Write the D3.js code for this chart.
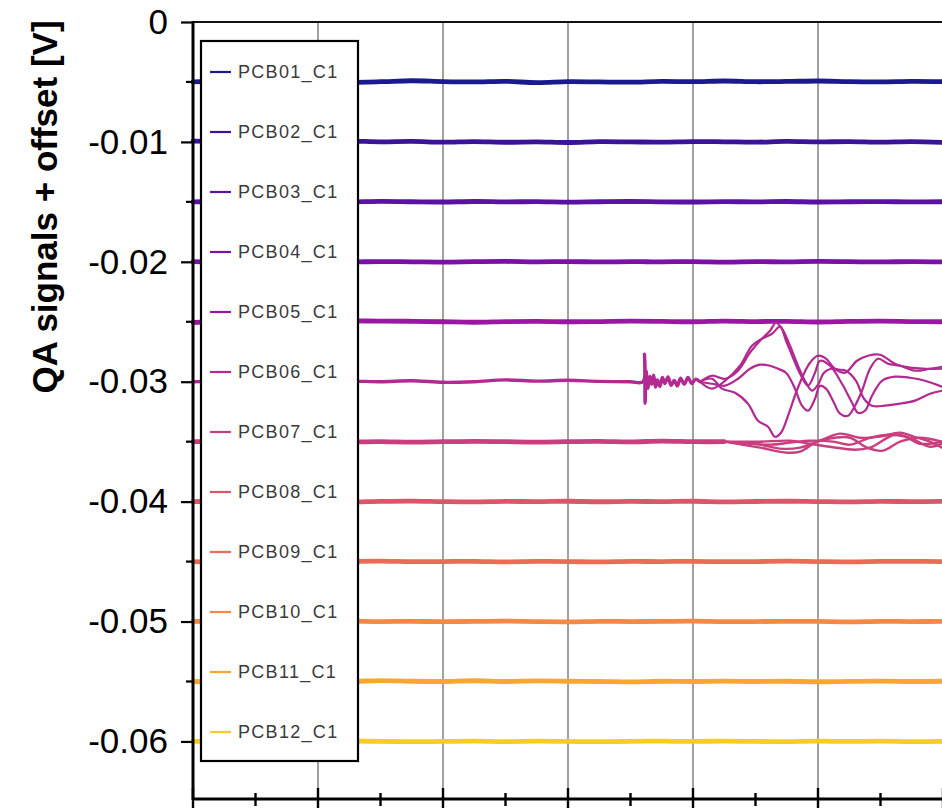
<!DOCTYPE html>
<html>
<head>
<meta charset="utf-8">
<script src="https://cdn.jsdelivr.net/npm/d3@7"></script>
<style>
  html, body { margin: 0; padding: 0; background: #fff; }
  svg { display: block; font-family: Arial, "Liberation Sans", sans-serif; }
</style>
</head>
<body>
<svg id="chart" width="942" height="808"></svg>
<script>
// Channel names, offsets added to each signal, and line colours
const channels = ["PCB01_C1","PCB02_C1","PCB03_C1","PCB04_C1","PCB05_C1","PCB06_C1",
                  "PCB07_C1","PCB08_C1","PCB09_C1","PCB10_C1","PCB11_C1","PCB12_C1"];
const offsets = [-0.005,-0.010,-0.015,-0.020,-0.025,-0.030,-0.035,-0.040,-0.045,-0.050,-0.055,-0.060];
const colors = ["#1b1a8c","#3b1399","#5b11a2","#7b0fa8","#9a17a3","#b22a91",
                "#c93f7e","#dc566a","#ea6c55","#f58845","#f9a630","#f7cd24"];

// Y tick values (volts) and x grid positions (time units)
const yMajorTicks = [0,-0.01,-0.02,-0.03,-0.04,-0.05,-0.06];
const yMinorTicks = [-0.005,-0.015,-0.025,-0.035,-0.045,-0.055];
const xMajorTicks = [0,1,2,3,4,5,6];
const xMinorTicks = [0.5,1.5,2.5,3.5,4.5,5.5];

// Sample times for the quiet channels
const sampleX = [0,0.25,0.5,0.75,1,1.25,1.5,1.75,2,2.25,2.5,2.75,3,3.25,3.5,3.75,4,4.25,4.5,4.75,5,5.25,5.5,5.75,6];

// Signals in mV (before offset), quiet channels
const sigPCB01 = [0.00,0.04,-0.02,0.03,0.00,-0.03,0.02,0.10,0.03,0.00,0.05,-0.06,0.02,0.00,-0.02,0.05,0.02,0.08,0.02,0.04,0.08,0.02,0.00,0.04,0.02];
const sigPCB02 = [0.06,0.02,-0.04,0.05,0.03,0.07,0.01,0.04,-0.02,0.03,-0.03,0.00,-0.05,0.02,0.00,-0.02,0.03,0.01,-0.02,0.04,0.00,0.03,-0.02,0.02,-0.04];
const sigPCB03 = [0.00,0.03,0.01,-0.02,0.02,0.00,0.04,0.01,-0.01,0.03,0.00,0.02,-0.02,0.01,0.03,0.00,-0.01,0.02,0.00,0.03,-0.01,0.01,0.02,0.00,0.01];
const sigPCB04 = [0.01,-0.02,0.02,0.00,0.03,-0.01,0.02,0.00,-0.02,0.01,0.03,0.00,0.02,-0.01,0.01,0.00,0.02,-0.02,0.01,0.00,0.03,0.01,-0.01,0.02,0.00];
const sigPCB05 = [-0.06,0.03,0.00,0.06,0.04,0.08,0.05,0.04,0.00,-0.04,0.01,0.03,0.00,0.02,0.05,0.03,0.00,0.06,0.02,0.04,-0.02,0.03,0.05,0.02,0.00];
const sigPCB08 = [0.00,0.03,-0.02,0.02,0.00,-0.03,0.02,0.04,0.00,-0.02,0.02,0.00,0.03,-0.01,0.02,0.00,0.03,-0.02,0.01,0.03,0.00,-0.02,0.02,0.00,0.02];
const sigPCB09 = [0.00,-0.03,0.02,0.00,-0.02,0.01,0.03,-0.01,0.00,0.02,-0.02,0.01,0.00,-0.03,0.01,0.00,0.02,-0.01,0.00,0.03,0.00,-0.02,0.01,0.02,0.00];
const sigPCB10 = [0.02,0.00,0.03,-0.02,0.01,0.03,0.00,0.02,-0.01,0.01,0.03,0.00,-0.02,0.02,0.00,0.01,0.03,-0.01,0.00,0.02,0.01,-0.02,0.02,0.00,0.01];
const sigPCB11 = [0.00,-0.04,0.02,0.00,0.06,0.00,0.08,0.02,0.00,0.06,0.00,0.05,0.02,0.00,-0.03,0.02,0.00,0.03,0.00,0.02,-0.02,0.01,0.03,0.00,0.02];
const sigPCB12 = [0.00,0.01,-0.02,0.02,0.00,0.03,0.01,-0.02,0.00,0.02,-0.01,0.02,0.00,-0.02,0.01,0.02,0.00,0.03,0.00,-0.01,0.02,0.00,0.02,-0.01,0.01];

// PCB06: common part with the ringing burst, then four diverging traces [time, mV]
const pcb06X   = [0,0.25,0.5,0.75,1,1.25,1.5,1.75,2,2.25,2.5,2.75,3,3.25,3.5,3.6,
                  3.612,3.617,3.625,3.64,3.655,3.67,3.685,3.70,3.715,3.735,3.755,3.775,3.80,3.825,3.85,3.875,3.90,3.93,3.96,3.99,4.02,4.056];
const pcb06Sig = [0.00,0.05,-0.05,0.00,-0.08,0.05,0.00,0.08,-0.05,0.00,0.15,0.05,0.12,0.03,0.00,0.00,
                  2.30,-1.80,0.90,-0.55,0.45,-0.20,0.55,-0.45,0.15,-0.40,0.35,-0.15,0.40,-0.30,0.10,-0.35,0.30,-0.20,0.35,-0.15,0.20,0.00];
const pcb06Branch1 = [[4.056,0],[4.152,0.50],[4.256,0.25],[4.36,0.92],[4.456,2.42],[4.536,3.42],[4.616,4.25],[4.664,4.92],[4.712,4.42],[4.776,3.00],[4.84,1.33],[4.904,-0.08],[4.952,-0.75],[5.0,-0.25],[5.048,0.75],[5.112,1.08],[5.216,0.75],[5.312,1.75],[5.4,2.17],[5.496,2.25],[5.616,1.50],[5.736,1.17],[5.856,1.08],[5.992,1.08]];
const pcb06Branch2 = [[4.056,0],[4.152,-0.58],[4.256,0.08],[4.376,1.33],[4.472,3.00],[4.552,3.59],[4.632,4.00],[4.696,4.59],[4.744,3.42],[4.80,2.00],[4.856,0.67],[4.92,-0.33],[4.976,0.75],[5.016,1.75],[5.096,1.33],[5.192,-0.17],[5.272,-1.75],[5.32,-2.59],[5.376,-2.42],[5.432,-1.17],[5.512,0.08],[5.616,0.42],[5.736,0.33],[5.856,0.08],[5.992,-0.42]];
const pcb06Branch3 = [[4.056,0],[4.152,-0.17],[4.256,-0.33],[4.36,0.25],[4.456,1.08],[4.536,1.42],[4.616,1.33],[4.68,1.08],[4.744,0.75],[4.816,-0.58],[4.872,-2.00],[4.92,-2.42],[4.976,-1.42],[5.016,-0.33],[5.064,-0.58],[5.12,-1.58],[5.176,-2.67],[5.24,-2.84],[5.296,-2.00],[5.352,-0.75],[5.416,1.08],[5.48,1.92],[5.56,1.50],[5.656,1.33],[5.776,0.92],[5.896,1.08],[5.992,1.25]];
const pcb06Branch4 = [[4.056,0],[4.152,0.25],[4.232,-0.58],[4.336,-0.92],[4.44,-1.83],[4.52,-3.25],[4.60,-3.75],[4.656,-4.59],[4.704,-4.25],[4.76,-2.84],[4.824,-0.92],[4.88,0.50],[4.936,1.58],[5.0,2.17],[5.064,1.92],[5.136,1.08],[5.224,0.92],[5.304,0.08],[5.368,-1.42],[5.432,-2.00],[5.536,-2.00],[5.656,-1.83],[5.776,-1.58],[5.896,-1.00],[5.992,-0.75]];

// PCB07: quiet until ~4.25, then four slightly spreading traces [time, mV]
const pcb07X   = [0,0.25,0.5,0.75,1,1.25,1.5,1.75,2,2.25,2.5,2.75,3,3.25,3.5,3.75,4,4.25];
const pcb07Sig = [0.00,0.02,-0.03,0.00,0.03,-0.02,0.00,-0.04,0.00,0.03,0.00,-0.03,0.00,0.02,-0.02,0.05,0.00,0.00];
const pcb07Branch1 = [[4.25,0],[4.536,-0.50],[4.752,-0.92],[4.856,-0.83],[4.992,0.00],[5.136,0.33],[5.256,0.33],[5.392,-0.50],[5.52,-0.75],[5.656,0.00],[5.816,0.33],[5.992,0.00]];
const pcb07Branch2 = [[4.25,0],[4.536,-0.25],[4.696,-0.58],[4.856,-0.50],[5.016,0.08],[5.176,0.67],[5.336,0.33],[5.496,0.42],[5.656,0.75],[5.792,0.33],[5.896,0.00],[5.992,-0.50]];
const pcb07Branch3 = [[4.25,0],[4.616,-0.25],[4.776,-0.08],[4.936,0.08],[5.12,0.00],[5.256,-0.25],[5.416,0.33],[5.576,0.58],[5.696,0.42],[5.816,-0.17],[5.992,0.00]];
const pcb07Branch4 = [[4.25,0],[4.536,0.00],[4.776,0.08],[4.936,-0.17],[5.096,-0.42],[5.296,-0.67],[5.416,-0.50],[5.616,0.58],[5.752,0.25],[5.896,-0.42],[5.992,-0.17]];

const quietSignals = {0: sigPCB01, 1: sigPCB02, 2: sigPCB03, 3: sigPCB04, 4: sigPCB05,
                      7: sigPCB08, 8: sigPCB09, 9: sigPCB10, 10: sigPCB11, 11: sigPCB12};

// ---------- layout ----------
const W = 942, H = 808;
const plot = { left: 193, top: 22, right: 943, bottom: 799 };

const x = d3.scaleLinear().domain([0, 6]).range([plot.left, plot.right]);
const y = d3.scaleLinear().domain([-0.0648, 0]).range([plot.bottom, plot.top]);

const svg = d3.select("#chart");
svg.append("rect").attr("width", W).attr("height", H).attr("fill", "#fff");

svg.append("defs").append("clipPath").attr("id", "plotClip")
  .append("rect").attr("x", plot.left - 5).attr("y", 0)
  .attr("width", W - plot.left + 5).attr("height", plot.bottom);

// vertical grid lines
svg.append("g").selectAll("line").data(xMajorTicks.slice(1)).join("line")
  .attr("x1", d => x(d)).attr("x2", d => x(d))
  .attr("y1", plot.top).attr("y2", plot.bottom)
  .attr("stroke", "#8a8a8a").attr("stroke-width", 1.6);

// top frame line
svg.append("line").attr("x1", plot.left).attr("x2", W)
  .attr("y1", plot.top).attr("y2", plot.top)
  .attr("stroke", "#111").attr("stroke-width", 1.8);

// ---------- signal traces ----------
const line = d3.line()
  .x(d => x(d[0]))
  .y(d => y(d[1]))
  .curve(d3.curveCatmullRom.alpha(0.5));

const toPoints = (xs, mv, off) => xs.map((t, i) => [t, off + mv[i] / 1000]);
const branchPoints = (br, off) => br.map(p => [p[0], off + p[1] / 1000]);

const traces = svg.append("g").attr("clip-path", "url(#plotClip)")
  .attr("fill", "none").attr("stroke-linejoin", "round").attr("stroke-linecap", "round");

function drawTrace(points, color, width) {
  traces.append("path").attr("d", line(points))
    .attr("stroke", color).attr("stroke-width", width);
}

channels.forEach((name, i) => {
  if (quietSignals[i]) {
    drawTrace(toPoints(sampleX, quietSignals[i], offsets[i]), colors[i], 4.8);
  }
});

// PCB06 with ringing and diverging traces
{
  const off = offsets[5], c = colors[5];
  drawTrace(toPoints(pcb06X, pcb06Sig, off), c, 3.4);
  [pcb06Branch1, pcb06Branch2, pcb06Branch3, pcb06Branch4]
    .forEach(br => drawTrace(branchPoints(br, off), c, 2.2));
}
// PCB07
{
  const off = offsets[6], c = colors[6];
  drawTrace(toPoints(pcb07X, pcb07Sig, off), c, 4.8);
  [pcb07Branch1, pcb07Branch2, pcb07Branch3, pcb07Branch4]
    .forEach(br => drawTrace(branchPoints(br, off), c, 2.4));
}

// ---------- axes ----------
const yAxis = d3.axisLeft(y).tickValues(yMajorTicks)
  .tickFormat(d => d === 0 ? "0" : d.toFixed(2))
  .tickSize(12).tickPadding(13);
const gY = svg.append("g").attr("transform", `translate(${plot.left},0)`).call(yAxis);
gY.select(".domain").remove();
gY.selectAll(".tick line").attr("stroke", "#000").attr("stroke-width", 2.2);
gY.selectAll(".tick text").attr("font-size", 35).attr("fill", "#000")
  .attr("font-family", "Arial, 'Liberation Sans', sans-serif");

svg.append("g").selectAll("line").data(yMinorTicks).join("line")
  .attr("x1", plot.left - 7).attr("x2", plot.left)
  .attr("y1", d => y(d)).attr("y2", d => y(d))
  .attr("stroke", "#000").attr("stroke-width", 2.2);

// left axis line
svg.append("line").attr("x1", plot.left).attr("x2", plot.left)
  .attr("y1", plot.top - 1).attr("y2", plot.bottom + 1)
  .attr("stroke", "#000").attr("stroke-width", 3);

// bottom axis with major/minor ticks crossing the line
svg.append("line").attr("x1", plot.left - 1).attr("x2", W)
  .attr("y1", plot.bottom).attr("y2", plot.bottom)
  .attr("stroke", "#000").attr("stroke-width", 3);
svg.append("g").selectAll("line").data(xMajorTicks).join("line")
  .attr("x1", d => x(d)).attr("x2", d => x(d))
  .attr("y1", plot.bottom - 11).attr("y2", H)
  .attr("stroke", "#000").attr("stroke-width", 2.4);
svg.append("g").selectAll("line").data(xMinorTicks).join("line")
  .attr("x1", d => x(d)).attr("x2", d => x(d))
  .attr("y1", plot.bottom - 6).attr("y2", plot.bottom + 7)
  .attr("stroke", "#000").attr("stroke-width", 2.4);

// y axis title
svg.append("text")
  .attr("transform", "translate(57,207) rotate(-90)")
  .attr("text-anchor", "middle")
  .attr("font-size", 35).attr("font-weight", "bold").attr("fill", "#000")
  .text("QA signals + offset [V]");

// ---------- legend ----------
const legend = svg.append("g");
legend.append("rect").attr("x", 201).attr("y", 41).attr("width", 157).attr("height", 720)
  .attr("fill", "#fff").attr("stroke", "#000").attr("stroke-width", 2.2);
const items = legend.selectAll("g.item").data(channels).join("g")
  .attr("class", "item")
  .attr("transform", (d, i) => `translate(0,${72 + i * 60})`);
items.append("line").attr("x1", 210).attr("x2", 231).attr("y1", 0).attr("y2", 0)
  .attr("stroke", (d, i) => colors[i]).attr("stroke-width", 2.2);
items.append("text").attr("x", 238).attr("y", 0).attr("dy", "0.36em")
  .attr("font-size", 18).attr("letter-spacing", 1.3).attr("fill", "#3a3a3a")
  .text(d => d);
</script>
</body>
</html>
